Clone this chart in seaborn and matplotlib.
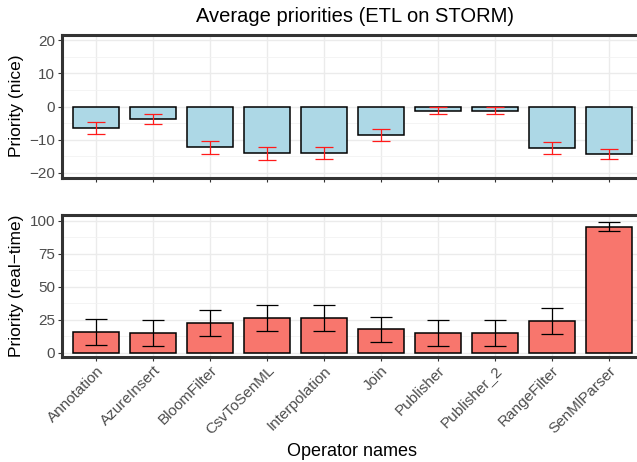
import matplotlib
matplotlib.use("Agg")
import matplotlib.pyplot as plt
import seaborn as sns
import numpy as np
import pandas as pd

# operator names (x axis)
operators = ["Annotation", "AzureInsert", "BloomFilter", "CsvToSenML", "Interpolation",
             "Join", "Publisher", "Publisher_2", "RangeFilter", "SenMlParser"]

# nice priorities: mean and error half-width
nice_mean = [-6.5, -3.85, -12.3, -14.15, -14.1, -8.6, -1.35, -1.35, -12.4, -14.35]
nice_err = [1.7, 1.45, 1.9, 1.95, 1.9, 1.75, 1.05, 1.05, 1.8, 1.65]

# real-time priorities: mean and error half-width
rt_mean = [15.4, 15.1, 22.4, 26.3, 26.0, 17.6, 14.9, 14.9, 23.8, 95.4]
rt_err = [9.85, 9.85, 9.75, 9.85, 10.0, 9.7, 9.85, 9.85, 9.85, 3.4]

df = pd.DataFrame({"op": operators, "nice": nice_mean, "nice_err": nice_err,
                   "rt": rt_mean, "rt_err": rt_err})

sns.set_style("white")
plt.rcParams["font.family"] = ["Liberation Sans", "DejaVu Sans"]

fig = plt.figure(figsize=(6.37, 4.62), dpi=100)
W, H = 637, 462
left, right = 62 / W, 643 / W
ax1 = fig.add_axes([left, 1 - 178 / H, right - left, (178 - 35) / H])
ax2 = fig.add_axes([left, 1 - 356.5 / H, right - left, (356.5 - 215) / H])

pos = np.arange(len(operators))

sns.barplot(data=df, x="op", y="nice", color="#ADD8E6", edgecolor="black",
            linewidth=1.1, width=0.8, saturation=1, ax=ax1, zorder=2)
ax1.errorbar(pos, df["nice"], yerr=df["nice_err"], fmt="none", ecolor="#FF1A1A",
             elinewidth=0.9, capsize=6.3, capthick=0.9, zorder=3)

sns.barplot(data=df, x="op", y="rt", color="#F8766D", edgecolor="black",
            linewidth=1.1, width=0.8, saturation=1, ax=ax2, zorder=2)
ax2.errorbar(pos, df["rt"], yerr=df["rt_err"], fmt="none", ecolor="black",
             elinewidth=0.9, capsize=7.9, capthick=0.9, zorder=3)

ax1.set_ylim(-21.6, 21.6)
ax1.set_yticks([-20, -10, 0, 10, 20])
ax1.set_yticks([-15, -5, 5, 15], minor=True)
ax2.set_ylim(-3.0, 104.3)
ax2.set_yticks([0, 25, 50, 75, 100])
ax2.set_yticks([12.5, 37.5, 62.5, 87.5], minor=True)

for ax in (ax1, ax2):
    ax.set_xlim(-0.6, len(operators) - 0.4)
    ax.grid(True, which="major", color="#EBEBEB", linewidth=1.0, zorder=0)
    ax.grid(True, which="minor", axis="y", color="#F2F2F2", linewidth=0.6, zorder=0)
    ax.set_axisbelow(True)
    for s in ax.spines.values():
        s.set_color("#333333")
        s.set_linewidth(2.2)
    ax.tick_params(axis="both", which="major", length=3, width=0.8, color="#333333",
                   labelsize=11, labelcolor="#4D4D4D", left=True, bottom=True, pad=2)
    ax.tick_params(axis="both", which="minor", length=0)
    ax.set_xlabel("")

ax1.set_xticks(pos)
ax1.set_xticklabels([])
ax1.set_ylabel("Priority (nice)", fontsize=12.5, color="black")
ax2.set_ylabel("Priority (real\u2212time)", fontsize=12.5, color="black")
ax1.yaxis.set_label_coords(17 / W, 1 - 106 / H, transform=fig.transFigure)
ax2.yaxis.set_label_coords(17 / W, 1 - 286 / H, transform=fig.transFigure)
ax2.set_xticks(pos)
ax2.set_xticklabels(operators, rotation=45, ha="right", va="top", rotation_mode="anchor")
ax2.set_xlabel("Operator names", fontsize=13, color="black")
ax2.xaxis.set_label_coords(352 / W, 1 - 452 / H, transform=fig.transFigure)
ax2.xaxis.label.set_va("center")
ax1.yaxis.label.set_va("center")
ax2.yaxis.label.set_va("center")

fig.text(355 / W, 1 - 16 / H, "Average priorities (ETL on STORM)", ha="center", va="center",
         fontsize=14.5, color="black")

fig.savefig("out.png", dpi=100)
